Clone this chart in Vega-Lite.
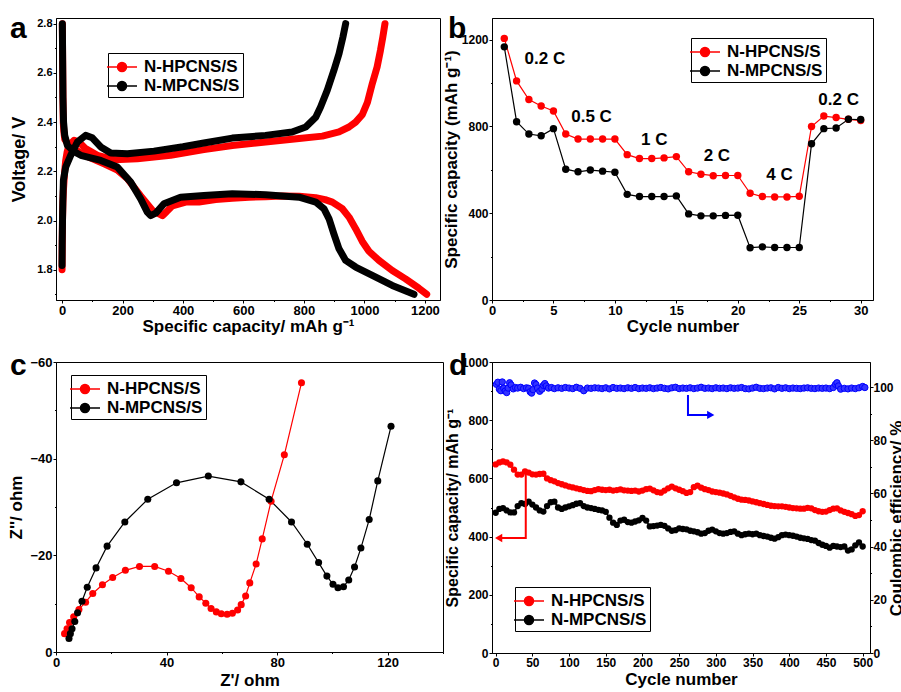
{
"$schema": "https://vega.github.io/schema/vega-lite/v6.json",
"background": "white",
"padding": {"left": 7, "top": 13, "right": 2, "bottom": 2},
"config": {
  "font": "Liberation Sans",
  "view": {"stroke": "black", "strokeWidth": 1},
  "axis": {"grid": false, "domainColor": "black", "tickColor": "black", "tickSize": 3, "labelColor": "black", "labelFontWeight": "bold", "labelFontSize": 12, "titleColor": "black", "titleFontWeight": "bold", "titleFontSize": 17, "labelPadding": 1, "labelOverlap": false, "labelFlush": false, "titlePadding": 1},
  "title": {"color": "black", "fontWeight": "bold", "fontSize": 30, "anchor": "start", "frame": "group"}
},
"datasets": {
  "galv": [
    {"s":"N-HPCNS/S","g":"d","i":0,"x":1,"y":2.8},{"s":"N-HPCNS/S","g":"d","i":1,"x":2,"y":2.65},{"s":"N-HPCNS/S","g":"d","i":2,"x":3,"y":2.5},{"s":"N-HPCNS/S","g":"d","i":3,"x":4,"y":2.4},{"s":"N-HPCNS/S","g":"d","i":4,"x":6,"y":2.36},{"s":"N-HPCNS/S","g":"d","i":5,"x":9,"y":2.33},{"s":"N-HPCNS/S","g":"d","i":6,"x":20,"y":2.31},{"s":"N-HPCNS/S","g":"d","i":7,"x":40,"y":2.29},{"s":"N-HPCNS/S","g":"d","i":8,"x":84,"y":2.26},{"s":"N-HPCNS/S","g":"d","i":9,"x":139,"y":2.23},{"s":"N-HPCNS/S","g":"d","i":10,"x":183,"y":2.205},{"s":"N-HPCNS/S","g":"d","i":11,"x":216,"y":2.17},{"s":"N-HPCNS/S","g":"d","i":12,"x":260,"y":2.1},{"s":"N-HPCNS/S","g":"d","i":13,"x":300,"y":2.04},{"s":"N-HPCNS/S","g":"d","i":14,"x":332,"y":2.02},{"s":"N-HPCNS/S","g":"d","i":15,"x":345,"y":2.035},{"s":"N-HPCNS/S","g":"d","i":16,"x":365,"y":2.06},{"s":"N-HPCNS/S","g":"d","i":17,"x":409,"y":2.075},{"s":"N-HPCNS/S","g":"d","i":18,"x":453,"y":2.075},{"s":"N-HPCNS/S","g":"d","i":19,"x":508,"y":2.085},{"s":"N-HPCNS/S","g":"d","i":20,"x":563,"y":2.09},{"s":"N-HPCNS/S","g":"d","i":21,"x":618,"y":2.095},{"s":"N-HPCNS/S","g":"d","i":22,"x":673,"y":2.097},{"s":"N-HPCNS/S","g":"d","i":23,"x":728,"y":2.1},{"s":"N-HPCNS/S","g":"d","i":24,"x":784,"y":2.099},{"s":"N-HPCNS/S","g":"d","i":25,"x":839,"y":2.093},{"s":"N-HPCNS/S","g":"d","i":26,"x":870,"y":2.085},{"s":"N-HPCNS/S","g":"d","i":27,"x":894,"y":2.075},{"s":"N-HPCNS/S","g":"d","i":28,"x":927,"y":2.048},{"s":"N-HPCNS/S","g":"d","i":29,"x":949,"y":2.014},{"s":"N-HPCNS/S","g":"d","i":30,"x":971,"y":1.967},{"s":"N-HPCNS/S","g":"d","i":31,"x":993,"y":1.915},{"s":"N-HPCNS/S","g":"d","i":32,"x":1015,"y":1.875},{"s":"N-HPCNS/S","g":"d","i":33,"x":1048,"y":1.838},{"s":"N-HPCNS/S","g":"d","i":34,"x":1092,"y":1.797},{"s":"N-HPCNS/S","g":"d","i":35,"x":1136,"y":1.763},{"s":"N-HPCNS/S","g":"d","i":36,"x":1180,"y":1.725},{"s":"N-HPCNS/S","g":"d","i":37,"x":1206,"y":1.7},
    {"s":"N-HPCNS/S","g":"c","i":0,"x":0,"y":1.8},{"s":"N-HPCNS/S","g":"c","i":1,"x":0.5,"y":1.9},{"s":"N-HPCNS/S","g":"c","i":2,"x":1.5,"y":2.0},{"s":"N-HPCNS/S","g":"c","i":3,"x":3,"y":2.08},{"s":"N-HPCNS/S","g":"c","i":4,"x":4.4,"y":2.12},{"s":"N-HPCNS/S","g":"c","i":5,"x":8,"y":2.19},{"s":"N-HPCNS/S","g":"c","i":6,"x":12,"y":2.244},{"s":"N-HPCNS/S","g":"c","i":7,"x":17,"y":2.28},{"s":"N-HPCNS/S","g":"c","i":8,"x":23,"y":2.305},{"s":"N-HPCNS/S","g":"c","i":9,"x":40,"y":2.326},{"s":"N-HPCNS/S","g":"c","i":10,"x":56,"y":2.319},{"s":"N-HPCNS/S","g":"c","i":11,"x":78,"y":2.292},{"s":"N-HPCNS/S","g":"c","i":12,"x":117,"y":2.265},{"s":"N-HPCNS/S","g":"c","i":13,"x":172,"y":2.247},{"s":"N-HPCNS/S","g":"c","i":14,"x":249,"y":2.251},{"s":"N-HPCNS/S","g":"c","i":15,"x":359,"y":2.265},{"s":"N-HPCNS/S","g":"c","i":16,"x":469,"y":2.288},{"s":"N-HPCNS/S","g":"c","i":17,"x":563,"y":2.305},{"s":"N-HPCNS/S","g":"c","i":18,"x":673,"y":2.319},{"s":"N-HPCNS/S","g":"c","i":19,"x":784,"y":2.333},{"s":"N-HPCNS/S","g":"c","i":20,"x":861,"y":2.343},{"s":"N-HPCNS/S","g":"c","i":21,"x":916,"y":2.36},{"s":"N-HPCNS/S","g":"c","i":22,"x":949,"y":2.38},{"s":"N-HPCNS/S","g":"c","i":23,"x":971,"y":2.4},{"s":"N-HPCNS/S","g":"c","i":24,"x":993,"y":2.43},{"s":"N-HPCNS/S","g":"c","i":25,"x":1010,"y":2.48},{"s":"N-HPCNS/S","g":"c","i":26,"x":1026,"y":2.556},{"s":"N-HPCNS/S","g":"c","i":27,"x":1042,"y":2.624},{"s":"N-HPCNS/S","g":"c","i":28,"x":1053,"y":2.691},{"s":"N-HPCNS/S","g":"c","i":29,"x":1061,"y":2.746},{"s":"N-HPCNS/S","g":"c","i":30,"x":1068,"y":2.8},
    {"s":"N-MPCNS/S","g":"d","i":0,"x":1,"y":2.8},{"s":"N-MPCNS/S","g":"d","i":1,"x":2,"y":2.65},{"s":"N-MPCNS/S","g":"d","i":2,"x":3,"y":2.5},{"s":"N-MPCNS/S","g":"d","i":3,"x":5,"y":2.4},{"s":"N-MPCNS/S","g":"d","i":4,"x":8.8,"y":2.346},{"s":"N-MPCNS/S","g":"d","i":5,"x":17.6,"y":2.305},{"s":"N-MPCNS/S","g":"d","i":6,"x":40,"y":2.28},{"s":"N-MPCNS/S","g":"d","i":7,"x":62,"y":2.265},{"s":"N-MPCNS/S","g":"d","i":8,"x":128,"y":2.244},{"s":"N-MPCNS/S","g":"d","i":9,"x":183,"y":2.217},{"s":"N-MPCNS/S","g":"d","i":10,"x":227,"y":2.156},{"s":"N-MPCNS/S","g":"d","i":11,"x":260,"y":2.088},{"s":"N-MPCNS/S","g":"d","i":12,"x":282,"y":2.034},{"s":"N-MPCNS/S","g":"d","i":13,"x":293,"y":2.02},{"s":"N-MPCNS/S","g":"d","i":14,"x":310,"y":2.03},{"s":"N-MPCNS/S","g":"d","i":15,"x":337,"y":2.068},{"s":"N-MPCNS/S","g":"d","i":16,"x":392,"y":2.095},{"s":"N-MPCNS/S","g":"d","i":17,"x":469,"y":2.102},{"s":"N-MPCNS/S","g":"d","i":18,"x":563,"y":2.109},{"s":"N-MPCNS/S","g":"d","i":19,"x":673,"y":2.105},{"s":"N-MPCNS/S","g":"d","i":20,"x":784,"y":2.095},{"s":"N-MPCNS/S","g":"d","i":21,"x":839,"y":2.075},{"s":"N-MPCNS/S","g":"d","i":22,"x":866,"y":2.048},{"s":"N-MPCNS/S","g":"d","i":23,"x":883,"y":2.007},{"s":"N-MPCNS/S","g":"d","i":24,"x":899,"y":1.946},{"s":"N-MPCNS/S","g":"d","i":25,"x":916,"y":1.885},{"s":"N-MPCNS/S","g":"d","i":26,"x":938,"y":1.838},{"s":"N-MPCNS/S","g":"d","i":27,"x":971,"y":1.811},{"s":"N-MPCNS/S","g":"d","i":28,"x":1026,"y":1.777},{"s":"N-MPCNS/S","g":"d","i":29,"x":1092,"y":1.736},{"s":"N-MPCNS/S","g":"d","i":30,"x":1164,"y":1.7},
    {"s":"N-MPCNS/S","g":"c","i":0,"x":0,"y":1.817},{"s":"N-MPCNS/S","g":"c","i":1,"x":0.5,"y":1.9},{"s":"N-MPCNS/S","g":"c","i":2,"x":1.5,"y":2.0},{"s":"N-MPCNS/S","g":"c","i":3,"x":2.5,"y":2.07},{"s":"N-MPCNS/S","g":"c","i":4,"x":4.4,"y":2.163},{"s":"N-MPCNS/S","g":"c","i":5,"x":12,"y":2.217},{"s":"N-MPCNS/S","g":"c","i":6,"x":28.6,"y":2.265},{"s":"N-MPCNS/S","g":"c","i":7,"x":50.7,"y":2.319},{"s":"N-MPCNS/S","g":"c","i":8,"x":78,"y":2.346},{"s":"N-MPCNS/S","g":"c","i":9,"x":100,"y":2.336},{"s":"N-MPCNS/S","g":"c","i":10,"x":128,"y":2.299},{"s":"N-MPCNS/S","g":"c","i":11,"x":161,"y":2.274},{"s":"N-MPCNS/S","g":"c","i":12,"x":216,"y":2.271},{"s":"N-MPCNS/S","g":"c","i":13,"x":304,"y":2.282},{"s":"N-MPCNS/S","g":"c","i":14,"x":400,"y":2.3},{"s":"N-MPCNS/S","g":"c","i":15,"x":469,"y":2.315},{"s":"N-MPCNS/S","g":"c","i":16,"x":563,"y":2.335},{"s":"N-MPCNS/S","g":"c","i":17,"x":673,"y":2.346},{"s":"N-MPCNS/S","g":"c","i":18,"x":761,"y":2.36},{"s":"N-MPCNS/S","g":"c","i":19,"x":806,"y":2.38},{"s":"N-MPCNS/S","g":"c","i":20,"x":839,"y":2.42},{"s":"N-MPCNS/S","g":"c","i":21,"x":855,"y":2.461},{"s":"N-MPCNS/S","g":"c","i":22,"x":877,"y":2.529},{"s":"N-MPCNS/S","g":"c","i":23,"x":899,"y":2.61},{"s":"N-MPCNS/S","g":"c","i":24,"x":916,"y":2.678},{"s":"N-MPCNS/S","g":"c","i":25,"x":929,"y":2.746},{"s":"N-MPCNS/S","g":"c","i":26,"x":938,"y":2.8}
  ],
  "rate": [
    {"s":"N-HPCNS/S","x":1,"y":1206},{"s":"N-HPCNS/S","x":2,"y":1010},{"s":"N-HPCNS/S","x":3,"y":924},{"s":"N-HPCNS/S","x":4,"y":894},{"s":"N-HPCNS/S","x":5,"y":871},{"s":"N-HPCNS/S","x":6,"y":765},{"s":"N-HPCNS/S","x":7,"y":742},{"s":"N-HPCNS/S","x":8,"y":742},{"s":"N-HPCNS/S","x":9,"y":742},{"s":"N-HPCNS/S","x":10,"y":742},{"s":"N-HPCNS/S","x":11,"y":670},{"s":"N-HPCNS/S","x":12,"y":652},{"s":"N-HPCNS/S","x":13,"y":652},{"s":"N-HPCNS/S","x":14,"y":655},{"s":"N-HPCNS/S","x":15,"y":661},{"s":"N-HPCNS/S","x":16,"y":591},{"s":"N-HPCNS/S","x":17,"y":580},{"s":"N-HPCNS/S","x":18,"y":573},{"s":"N-HPCNS/S","x":19,"y":574},{"s":"N-HPCNS/S","x":20,"y":574},{"s":"N-HPCNS/S","x":21,"y":492},{"s":"N-HPCNS/S","x":22,"y":477},{"s":"N-HPCNS/S","x":23,"y":475},{"s":"N-HPCNS/S","x":24,"y":475},{"s":"N-HPCNS/S","x":25,"y":478},{"s":"N-HPCNS/S","x":26,"y":800},{"s":"N-HPCNS/S","x":27,"y":848},{"s":"N-HPCNS/S","x":28,"y":841},{"s":"N-HPCNS/S","x":29,"y":833},{"s":"N-HPCNS/S","x":30,"y":827},
    {"s":"N-MPCNS/S","x":1,"y":1167},{"s":"N-MPCNS/S","x":2,"y":822},{"s":"N-MPCNS/S","x":3,"y":765},{"s":"N-MPCNS/S","x":4,"y":757},{"s":"N-MPCNS/S","x":5,"y":790},{"s":"N-MPCNS/S","x":6,"y":603},{"s":"N-MPCNS/S","x":7,"y":591},{"s":"N-MPCNS/S","x":8,"y":599},{"s":"N-MPCNS/S","x":9,"y":594},{"s":"N-MPCNS/S","x":10,"y":589},{"s":"N-MPCNS/S","x":11,"y":487},{"s":"N-MPCNS/S","x":12,"y":477},{"s":"N-MPCNS/S","x":13,"y":477},{"s":"N-MPCNS/S","x":14,"y":477},{"s":"N-MPCNS/S","x":15,"y":480},{"s":"N-MPCNS/S","x":16,"y":397},{"s":"N-MPCNS/S","x":17,"y":388},{"s":"N-MPCNS/S","x":18,"y":388},{"s":"N-MPCNS/S","x":19,"y":390},{"s":"N-MPCNS/S","x":20,"y":391},{"s":"N-MPCNS/S","x":21,"y":241},{"s":"N-MPCNS/S","x":22,"y":245},{"s":"N-MPCNS/S","x":23,"y":242},{"s":"N-MPCNS/S","x":24,"y":242},{"s":"N-MPCNS/S","x":25,"y":242},{"s":"N-MPCNS/S","x":26,"y":720},{"s":"N-MPCNS/S","x":27,"y":790},{"s":"N-MPCNS/S","x":28,"y":793},{"s":"N-MPCNS/S","x":29,"y":833},{"s":"N-MPCNS/S","x":30,"y":832}
  ],
  "ratelabels": [
    {"x":4.3,"y":1112,"t":"0.2 C"},{"x":8.1,"y":845,"t":"0.5 C"},{"x":13.2,"y":736,"t":"1 C"},{"x":18.3,"y":666,"t":"2 C"},{"x":23.4,"y":574,"t":"4 C"},{"x":28.2,"y":924,"t":"0.2 C"}
  ],
  "eis": [
    {"s":"N-HPCNS/S","x":3.1,"y":-3.8},{"s":"N-HPCNS/S","x":4.0,"y":-4.8},{"s":"N-HPCNS/S","x":4.9,"y":-6.1},{"s":"N-HPCNS/S","x":6.4,"y":-7.3},{"s":"N-HPCNS/S","x":8.3,"y":-8.8},{"s":"N-HPCNS/S","x":10.7,"y":-10.3},{"s":"N-HPCNS/S","x":13.3,"y":-12.1},{"s":"N-HPCNS/S","x":16.8,"y":-13.9},{"s":"N-HPCNS/S","x":20.5,"y":-15.4},{"s":"N-HPCNS/S","x":25.1,"y":-16.9},{"s":"N-HPCNS/S","x":30.2,"y":-17.7},{"s":"N-HPCNS/S","x":35.7,"y":-17.7},{"s":"N-HPCNS/S","x":40.7,"y":-16.7},{"s":"N-HPCNS/S","x":45.2,"y":-15.2},{"s":"N-HPCNS/S","x":48.9,"y":-13.3},{"s":"N-HPCNS/S","x":51.8,"y":-11.4},{"s":"N-HPCNS/S","x":54.2,"y":-10.1},{"s":"N-HPCNS/S","x":56.1,"y":-9.0},{"s":"N-HPCNS/S","x":58.0,"y":-8.3},{"s":"N-HPCNS/S","x":59.8,"y":-7.9},{"s":"N-HPCNS/S","x":61.9,"y":-7.8},{"s":"N-HPCNS/S","x":63.8,"y":-8.0},{"s":"N-HPCNS/S","x":65.7,"y":-8.7},{"s":"N-HPCNS/S","x":67.0,"y":-9.8},{"s":"N-HPCNS/S","x":68.6,"y":-11.6},{"s":"N-HPCNS/S","x":70.1,"y":-14.3},{"s":"N-HPCNS/S","x":72.4,"y":-18.2},{"s":"N-HPCNS/S","x":74.6,"y":-23.4},{"s":"N-HPCNS/S","x":77.8,"y":-31.2},{"s":"N-HPCNS/S","x":82.6,"y":-40.8},{"s":"N-HPCNS/S","x":88.8,"y":-55.7},
    {"s":"N-MPCNS/S","x":4.7,"y":-2.8},{"s":"N-MPCNS/S","x":5.2,"y":-3.8},{"s":"N-MPCNS/S","x":5.8,"y":-4.8},{"s":"N-MPCNS/S","x":6.8,"y":-6.3},{"s":"N-MPCNS/S","x":7.8,"y":-8.1},{"s":"N-MPCNS/S","x":9.4,"y":-10.5},{"s":"N-MPCNS/S","x":11.3,"y":-13.4},{"s":"N-MPCNS/S","x":14.5,"y":-17.4},{"s":"N-MPCNS/S","x":18.5,"y":-21.9},{"s":"N-MPCNS/S","x":24.9,"y":-26.9},{"s":"N-MPCNS/S","x":33.2,"y":-31.6},{"s":"N-MPCNS/S","x":43.6,"y":-35.0},{"s":"N-MPCNS/S","x":55.1,"y":-36.4},{"s":"N-MPCNS/S","x":66.9,"y":-35.2},{"s":"N-MPCNS/S","x":77.1,"y":-31.6},{"s":"N-MPCNS/S","x":85.2,"y":-26.9},{"s":"N-MPCNS/S","x":90.9,"y":-22.3},{"s":"N-MPCNS/S","x":95.0,"y":-18.5},{"s":"N-MPCNS/S","x":98.0,"y":-15.7},{"s":"N-MPCNS/S","x":100.2,"y":-14.0},{"s":"N-MPCNS/S","x":102.0,"y":-13.3},{"s":"N-MPCNS/S","x":104.0,"y":-13.5},{"s":"N-MPCNS/S","x":105.9,"y":-14.9},{"s":"N-MPCNS/S","x":108.0,"y":-17.6},{"s":"N-MPCNS/S","x":110.3,"y":-21.5},{"s":"N-MPCNS/S","x":113.3,"y":-27.4},{"s":"N-MPCNS/S","x":116.4,"y":-35.4},{"s":"N-MPCNS/S","x":121.2,"y":-46.7}
  ],
  "cyc": [
    {"s":"N-HPCNS/S","x":0,"y":648},{"s":"N-HPCNS/S","x":5,"y":655},{"s":"N-HPCNS/S","x":10,"y":658},{"s":"N-HPCNS/S","x":15,"y":655},{"s":"N-HPCNS/S","x":20,"y":647},{"s":"N-HPCNS/S","x":25,"y":630},{"s":"N-HPCNS/S","x":30,"y":613},{"s":"N-HPCNS/S","x":35,"y":613},{"s":"N-HPCNS/S","x":40,"y":624},{"s":"N-HPCNS/S","x":45,"y":620},{"s":"N-HPCNS/S","x":50,"y":614},{"s":"N-HPCNS/S","x":55,"y":613},{"s":"N-HPCNS/S","x":60,"y":615},{"s":"N-HPCNS/S","x":65,"y":616},{"s":"N-HPCNS/S","x":70,"y":600},{"s":"N-HPCNS/S","x":75,"y":594},{"s":"N-HPCNS/S","x":80,"y":590},{"s":"N-HPCNS/S","x":85,"y":584},{"s":"N-HPCNS/S","x":90,"y":580},{"s":"N-HPCNS/S","x":95,"y":576},{"s":"N-HPCNS/S","x":100,"y":572},{"s":"N-HPCNS/S","x":105,"y":569},{"s":"N-HPCNS/S","x":110,"y":566},{"s":"N-HPCNS/S","x":115,"y":563},{"s":"N-HPCNS/S","x":120,"y":560},{"s":"N-HPCNS/S","x":125,"y":557},{"s":"N-HPCNS/S","x":130,"y":556},{"s":"N-HPCNS/S","x":135,"y":560},{"s":"N-HPCNS/S","x":140,"y":563},{"s":"N-HPCNS/S","x":145,"y":561},{"s":"N-HPCNS/S","x":150,"y":560},{"s":"N-HPCNS/S","x":155,"y":561},{"s":"N-HPCNS/S","x":160,"y":558},{"s":"N-HPCNS/S","x":165,"y":560},{"s":"N-HPCNS/S","x":170,"y":562},{"s":"N-HPCNS/S","x":175,"y":559},{"s":"N-HPCNS/S","x":180,"y":558},{"s":"N-HPCNS/S","x":185,"y":557},{"s":"N-HPCNS/S","x":190,"y":558},{"s":"N-HPCNS/S","x":195,"y":555},{"s":"N-HPCNS/S","x":200,"y":558},{"s":"N-HPCNS/S","x":205,"y":563},{"s":"N-HPCNS/S","x":210,"y":565},{"s":"N-HPCNS/S","x":215,"y":559},{"s":"N-HPCNS/S","x":220,"y":553},{"s":"N-HPCNS/S","x":225,"y":551},{"s":"N-HPCNS/S","x":230,"y":558},{"s":"N-HPCNS/S","x":235,"y":566},{"s":"N-HPCNS/S","x":240,"y":572},{"s":"N-HPCNS/S","x":245,"y":566},{"s":"N-HPCNS/S","x":250,"y":561},{"s":"N-HPCNS/S","x":255,"y":556},{"s":"N-HPCNS/S","x":260,"y":550},{"s":"N-HPCNS/S","x":265,"y":553},{"s":"N-HPCNS/S","x":270,"y":570},{"s":"N-HPCNS/S","x":275,"y":575},{"s":"N-HPCNS/S","x":280,"y":568},{"s":"N-HPCNS/S","x":285,"y":563},{"s":"N-HPCNS/S","x":290,"y":560},{"s":"N-HPCNS/S","x":295,"y":555},{"s":"N-HPCNS/S","x":300,"y":553},{"s":"N-HPCNS/S","x":305,"y":551},{"s":"N-HPCNS/S","x":310,"y":548},{"s":"N-HPCNS/S","x":315,"y":545},{"s":"N-HPCNS/S","x":320,"y":540},{"s":"N-HPCNS/S","x":325,"y":535},{"s":"N-HPCNS/S","x":330,"y":530},{"s":"N-HPCNS/S","x":335,"y":527},{"s":"N-HPCNS/S","x":340,"y":526},{"s":"N-HPCNS/S","x":345,"y":524},{"s":"N-HPCNS/S","x":350,"y":521},{"s":"N-HPCNS/S","x":355,"y":518},{"s":"N-HPCNS/S","x":360,"y":515},{"s":"N-HPCNS/S","x":365,"y":512},{"s":"N-HPCNS/S","x":370,"y":509},{"s":"N-HPCNS/S","x":375,"y":506},{"s":"N-HPCNS/S","x":380,"y":505},{"s":"N-HPCNS/S","x":385,"y":504},{"s":"N-HPCNS/S","x":390,"y":504},{"s":"N-HPCNS/S","x":395,"y":502},{"s":"N-HPCNS/S","x":400,"y":500},{"s":"N-HPCNS/S","x":405,"y":498},{"s":"N-HPCNS/S","x":410,"y":497},{"s":"N-HPCNS/S","x":415,"y":496},{"s":"N-HPCNS/S","x":420,"y":496},{"s":"N-HPCNS/S","x":425,"y":499},{"s":"N-HPCNS/S","x":430,"y":497},{"s":"N-HPCNS/S","x":435,"y":491},{"s":"N-HPCNS/S","x":440,"y":487},{"s":"N-HPCNS/S","x":445,"y":485},{"s":"N-HPCNS/S","x":450,"y":486},{"s":"N-HPCNS/S","x":455,"y":491},{"s":"N-HPCNS/S","x":460,"y":496},{"s":"N-HPCNS/S","x":465,"y":497},{"s":"N-HPCNS/S","x":470,"y":490},{"s":"N-HPCNS/S","x":475,"y":485},{"s":"N-HPCNS/S","x":480,"y":481},{"s":"N-HPCNS/S","x":485,"y":477},{"s":"N-HPCNS/S","x":490,"y":471},{"s":"N-HPCNS/S","x":495,"y":474},{"s":"N-HPCNS/S","x":500,"y":487},
    {"s":"N-MPCNS/S","x":0,"y":482},{"s":"N-MPCNS/S","x":5,"y":495},{"s":"N-MPCNS/S","x":10,"y":498},{"s":"N-MPCNS/S","x":15,"y":490},{"s":"N-MPCNS/S","x":20,"y":483},{"s":"N-MPCNS/S","x":25,"y":483},{"s":"N-MPCNS/S","x":30,"y":505},{"s":"N-MPCNS/S","x":35,"y":515},{"s":"N-MPCNS/S","x":40,"y":512},{"s":"N-MPCNS/S","x":45,"y":520},{"s":"N-MPCNS/S","x":50,"y":510},{"s":"N-MPCNS/S","x":55,"y":500},{"s":"N-MPCNS/S","x":60,"y":490},{"s":"N-MPCNS/S","x":65,"y":486},{"s":"N-MPCNS/S","x":70,"y":505},{"s":"N-MPCNS/S","x":75,"y":518},{"s":"N-MPCNS/S","x":80,"y":520},{"s":"N-MPCNS/S","x":85,"y":500},{"s":"N-MPCNS/S","x":90,"y":495},{"s":"N-MPCNS/S","x":95,"y":500},{"s":"N-MPCNS/S","x":100,"y":504},{"s":"N-MPCNS/S","x":105,"y":508},{"s":"N-MPCNS/S","x":110,"y":513},{"s":"N-MPCNS/S","x":115,"y":515},{"s":"N-MPCNS/S","x":120,"y":505},{"s":"N-MPCNS/S","x":125,"y":500},{"s":"N-MPCNS/S","x":130,"y":498},{"s":"N-MPCNS/S","x":135,"y":495},{"s":"N-MPCNS/S","x":140,"y":492},{"s":"N-MPCNS/S","x":145,"y":490},{"s":"N-MPCNS/S","x":150,"y":485},{"s":"N-MPCNS/S","x":155,"y":465},{"s":"N-MPCNS/S","x":160,"y":448},{"s":"N-MPCNS/S","x":165,"y":440},{"s":"N-MPCNS/S","x":170,"y":455},{"s":"N-MPCNS/S","x":175,"y":458},{"s":"N-MPCNS/S","x":180,"y":450},{"s":"N-MPCNS/S","x":185,"y":448},{"s":"N-MPCNS/S","x":190,"y":452},{"s":"N-MPCNS/S","x":195,"y":456},{"s":"N-MPCNS/S","x":200,"y":464},{"s":"N-MPCNS/S","x":205,"y":455},{"s":"N-MPCNS/S","x":210,"y":435},{"s":"N-MPCNS/S","x":215,"y":436},{"s":"N-MPCNS/S","x":220,"y":438},{"s":"N-MPCNS/S","x":225,"y":440},{"s":"N-MPCNS/S","x":230,"y":437},{"s":"N-MPCNS/S","x":235,"y":428},{"s":"N-MPCNS/S","x":240,"y":420},{"s":"N-MPCNS/S","x":245,"y":422},{"s":"N-MPCNS/S","x":250,"y":428},{"s":"N-MPCNS/S","x":255,"y":426},{"s":"N-MPCNS/S","x":260,"y":425},{"s":"N-MPCNS/S","x":265,"y":420},{"s":"N-MPCNS/S","x":270,"y":418},{"s":"N-MPCNS/S","x":275,"y":415},{"s":"N-MPCNS/S","x":280,"y":410},{"s":"N-MPCNS/S","x":285,"y":412},{"s":"N-MPCNS/S","x":290,"y":420},{"s":"N-MPCNS/S","x":295,"y":424},{"s":"N-MPCNS/S","x":300,"y":418},{"s":"N-MPCNS/S","x":305,"y":412},{"s":"N-MPCNS/S","x":310,"y":410},{"s":"N-MPCNS/S","x":315,"y":412},{"s":"N-MPCNS/S","x":320,"y":416},{"s":"N-MPCNS/S","x":325,"y":418},{"s":"N-MPCNS/S","x":330,"y":410},{"s":"N-MPCNS/S","x":335,"y":405},{"s":"N-MPCNS/S","x":340,"y":408},{"s":"N-MPCNS/S","x":345,"y":410},{"s":"N-MPCNS/S","x":350,"y":408},{"s":"N-MPCNS/S","x":355,"y":410},{"s":"N-MPCNS/S","x":360,"y":405},{"s":"N-MPCNS/S","x":365,"y":402},{"s":"N-MPCNS/S","x":370,"y":400},{"s":"N-MPCNS/S","x":375,"y":396},{"s":"N-MPCNS/S","x":380,"y":393},{"s":"N-MPCNS/S","x":385,"y":398},{"s":"N-MPCNS/S","x":390,"y":405},{"s":"N-MPCNS/S","x":395,"y":407},{"s":"N-MPCNS/S","x":400,"y":405},{"s":"N-MPCNS/S","x":405,"y":403},{"s":"N-MPCNS/S","x":410,"y":400},{"s":"N-MPCNS/S","x":415,"y":396},{"s":"N-MPCNS/S","x":420,"y":394},{"s":"N-MPCNS/S","x":425,"y":392},{"s":"N-MPCNS/S","x":430,"y":388},{"s":"N-MPCNS/S","x":435,"y":386},{"s":"N-MPCNS/S","x":440,"y":378},{"s":"N-MPCNS/S","x":445,"y":372},{"s":"N-MPCNS/S","x":450,"y":368},{"s":"N-MPCNS/S","x":455,"y":362},{"s":"N-MPCNS/S","x":460,"y":368},{"s":"N-MPCNS/S","x":465,"y":366},{"s":"N-MPCNS/S","x":470,"y":364},{"s":"N-MPCNS/S","x":475,"y":366},{"s":"N-MPCNS/S","x":480,"y":352},{"s":"N-MPCNS/S","x":485,"y":356},{"s":"N-MPCNS/S","x":490,"y":370},{"s":"N-MPCNS/S","x":495,"y":380},{"s":"N-MPCNS/S","x":500,"y":366}
  ],
  "ce": [
    {"x":1,"y":101.0},{"x":3,"y":101.8},{"x":5,"y":99.2},{"x":7,"y":98.6},{"x":9,"y":101.9},{"x":11,"y":99.5},{"x":13,"y":98.5},{"x":15,"y":97.9},{"x":17,"y":99.6},{"x":19,"y":101.6},{"x":21,"y":100.8},{"x":24,"y":99.3},{"x":27,"y":99.8},{"x":30,"y":99.6},{"x":34,"y":99.9},{"x":38,"y":99.4},{"x":42,"y":99.7},{"x":45,"y":99.5},{"x":47,"y":98.2},{"x":49,"y":97.7},{"x":51,"y":99.0},{"x":53,"y":101.5},{"x":55,"y":100.9},{"x":57,"y":99.6},{"x":60,"y":98.4},{"x":63,"y":99.2},{"x":65,"y":100.6},{"x":67,"y":101.3},{"x":69,"y":100.4},{"x":72,"y":99.6},{"x":76,"y":99.8},{"x":80,"y":99.4},{"x":85,"y":99.7},{"x":90,"y":99.5},{"x":95,"y":99.8},{"x":100,"y":99.6},{"x":105,"y":99.4},{"x":110,"y":99.9},{"x":115,"y":99.5},{"x":120,"y":98.6},{"x":125,"y":99.6},{"x":130,"y":99.5},{"x":135,"y":99.7},{"x":140,"y":99.6},{"x":145,"y":99.4},{"x":150,"y":99.7},{"x":155,"y":99.3},{"x":160,"y":99.8},{"x":165,"y":99.5},{"x":170,"y":99.6},{"x":175,"y":99.4},{"x":180,"y":99.7},{"x":185,"y":99.5},{"x":190,"y":99.8},{"x":195,"y":99.4},{"x":200,"y":99.6},{"x":205,"y":99.5},{"x":210,"y":99.7},{"x":215,"y":99.4},{"x":220,"y":99.6},{"x":225,"y":99.8},{"x":230,"y":99.5},{"x":235,"y":99.3},{"x":240,"y":99.7},{"x":245,"y":99.9},{"x":250,"y":99.4},{"x":255,"y":99.6},{"x":260,"y":99.5},{"x":265,"y":99.7},{"x":270,"y":99.4},{"x":275,"y":99.6},{"x":280,"y":99.9},{"x":285,"y":99.5},{"x":290,"y":99.6},{"x":295,"y":99.4},{"x":300,"y":99.7},{"x":305,"y":99.5},{"x":310,"y":99.6},{"x":315,"y":99.4},{"x":320,"y":99.7},{"x":325,"y":99.5},{"x":330,"y":99.6},{"x":335,"y":99.8},{"x":340,"y":99.4},{"x":345,"y":99.3},{"x":350,"y":99.6},{"x":355,"y":99.9},{"x":360,"y":99.5},{"x":365,"y":99.4},{"x":370,"y":99.6},{"x":375,"y":99.7},{"x":380,"y":99.3},{"x":385,"y":99.8},{"x":390,"y":99.5},{"x":395,"y":99.7},{"x":400,"y":99.4},{"x":405,"y":99.6},{"x":410,"y":99.5},{"x":415,"y":99.4},{"x":420,"y":99.6},{"x":425,"y":99.7},{"x":430,"y":99.5},{"x":435,"y":99.4},{"x":440,"y":99.6},{"x":445,"y":99.5},{"x":450,"y":99.6},{"x":455,"y":99.4},{"x":460,"y":99.8},{"x":463,"y":101.0},{"x":465,"y":101.6},{"x":467,"y":100.4},{"x":470,"y":99.2},{"x":475,"y":99.5},{"x":480,"y":99.3},{"x":485,"y":99.6},{"x":490,"y":99.4},{"x":495,"y":99.7},{"x":500,"y":100.2},{"x":503,"y":99.8}
  ],
  "redarrow": [{"i":0,"x":41,"y":618},{"i":1,"x":41,"y":395},{"i":2,"x":4,"y":395}],
  "redhead": [{"x":4,"y":395}],
  "bluearrow": [{"i":0,"x":262,"y":97},{"i":1,"x":262,"y":89.5},{"i":2,"x":293,"y":89.5}],
  "bluehead": [{"x":293,"y":89.5}]
},
"columns": 2,
"spacing": {"row": 62, "column": 49},
"bounds": "flush",
"resolve": {"scale": {"color": "independent"}, "legend": {"color": "independent"}},
"concat": [
  {
    "width": 384, "height": 282,
    "title": {"text": "a", "dx": -46, "dy": 30},
    "data": {"name": "galv"},
    "mark": {"type": "line", "strokeWidth": 7, "strokeCap": "round", "strokeJoin": "round"},
    "encoding": {
      "x": {"field": "x", "type": "quantitative", "scale": {"domain": [-20, 1250], "nice": false, "zero": false},
        "axis": {"title": "Specific capacity/ mAh g⁻¹", "values": [0,100,200,300,400,500,600,700,800,900,1000,1100,1200], "labelExpr": "datum.value % 200 === 0 ? datum.label : ''", "tickSize": {"condition": {"test": "datum.value % 200 !== 0", "value": 1.5}, "value": 3}, "labelFontSize": 13, "format": "d"}},
      "y": {"field": "y", "type": "quantitative", "scale": {"domain": [1.677, 2.823], "nice": false, "zero": false},
        "axis": {"title": "Voltage/ V", "values": [1.7,1.8,1.9,2.0,2.1,2.2,2.3,2.4,2.5,2.6,2.7,2.8], "format": ".1f", "labelExpr": "round(datum.value*10) % 2 === 0 ? datum.label : ''", "tickSize": {"condition": {"test": "round(datum.value*10) % 2 === 1", "value": 1.5}, "value": 3}, "labelFontSize": 11, "titlePadding": 8, "titleFontSize": 18}},
      "color": {"field": "s", "type": "nominal", "scale": {"domain": ["N-HPCNS/S", "N-MPCNS/S"], "range": ["#ff0000", "#000000"]},
        "legend": {"orient": "none", "legendX": 52, "legendY": 35, "title": null, "strokeColor": "black", "fillColor": "white", "padding": 3, "rowPadding": 0, "symbolType": "M-1.5,0H1.5M-0.45,0A0.45,0.45 0 1,1 0.45,0A0.45,0.45 0 1,1 -0.45,0Z", "symbolSize": 400, "symbolStrokeWidth": 1.5, "labelFontSize": 17, "labelFontWeight": "bold", "labelColor": "black", "labelOffset": 11,
          "encode": {"symbols": {"update": {"fill": {"signal": "datum.value === 'N-HPCNS/S' ? '#ff0000' : '#000000'"}, "stroke": {"signal": "datum.value === 'N-HPCNS/S' ? '#ff0000' : '#000000'"}}}}}},
      "detail": {"field": "g"},
      "order": {"field": "i", "type": "quantitative"}
    }
  },
  {
    "width": 381, "height": 282,
    "title": {"text": "b", "dx": -44, "dy": 30},
    "encoding": {
      "x": {"field": "x", "type": "quantitative", "scale": {"domain": [0, 31], "nice": false, "zero": false},
        "axis": {"title": "Cycle number", "values": [0,2.5,5,7.5,10,12.5,15,17.5,20,22.5,25,27.5,30], "labelExpr": "datum.value % 5 === 0 ? datum.label : ''", "tickSize": {"condition": {"test": "datum.value % 5 !== 0", "value": 1.5}, "value": 3}, "format": "~g", "labelFontSize": 13}},
      "y": {"field": "y", "type": "quantitative", "scale": {"domain": [0, 1300], "nice": false},
        "axis": {"title": "Specific capacity (mAh g⁻¹)", "values": [0,200,400,600,800,1000,1200], "labelExpr": "datum.value % 400 === 0 ? datum.label : ''", "tickSize": {"condition": {"test": "datum.value % 400 !== 0", "value": 1.5}, "value": 3}, "format": "d"}}
    },
    "layer": [
      {"data": {"name": "rate"}, "mark": {"type": "line", "strokeWidth": 1.2},
       "encoding": {"color": {"field": "s", "type": "nominal", "scale": {"domain": ["N-HPCNS/S", "N-MPCNS/S"], "range": ["#ff0000", "#000000"]},
        "legend": {"orient": "none", "legendX": 199, "legendY": 20, "title": null, "strokeColor": "black", "fillColor": "white", "padding": 3, "rowPadding": 0, "symbolType": "M-1.5,0H1.5M-0.45,0A0.45,0.45 0 1,1 0.45,0A0.45,0.45 0 1,1 -0.45,0Z", "symbolSize": 400, "symbolStrokeWidth": 1.5, "labelFontSize": 17, "labelFontWeight": "bold", "labelColor": "black", "labelOffset": 11,
          "encode": {"symbols": {"update": {"fill": {"signal": "datum.value === 'N-HPCNS/S' ? '#ff0000' : '#000000'"}, "stroke": {"signal": "datum.value === 'N-HPCNS/S' ? '#ff0000' : '#000000'"}}}}}}}},
      {"data": {"name": "rate"}, "mark": {"type": "point", "filled": true, "size": 55, "opacity": 1},
       "encoding": {"color": {"field": "s", "type": "nominal"}}},
      {"data": {"name": "ratelabels"}, "mark": {"type": "text", "fontSize": 17, "fontWeight": "bold", "color": "black", "align": "center", "baseline": "middle"},
       "encoding": {"text": {"field": "t"}}}
    ]
  },
  {
    "width": 387, "height": 290,
    "title": {"text": "c", "dx": -46, "dy": 29},
    "data": {"name": "eis"},
    "encoding": {
      "x": {"field": "x", "type": "quantitative", "scale": {"domain": [0, 140], "nice": false, "zero": false},
        "axis": {"title": "Z'/ ohm", "values": [0,20,40,60,80,100,120,140], "labelExpr": "datum.value % 40 === 0 && datum.value < 140 ? datum.label : ''", "tickSize": {"condition": {"test": "datum.value % 40 !== 0", "value": 1.5}, "value": 3}, "format": "d", "labelFontSize": 13, "titlePadding": 3}},
      "y": {"field": "y", "type": "quantitative", "scale": {"domain": [0, -60], "nice": false, "zero": false},
        "axis": {"title": "Z''/ ohm", "values": [0,-10,-20,-30,-40,-50,-60], "labelExpr": "datum.value % 20 === 0 ? datum.label : ''", "tickSize": {"condition": {"test": "datum.value % 20 !== 0", "value": 1.5}, "value": 3}, "format": "d", "labelFontSize": 13, "titlePadding": 4}},
      "color": {"field": "s", "type": "nominal", "scale": {"domain": ["N-HPCNS/S", "N-MPCNS/S"], "range": ["#ff0000", "#000000"]},
        "legend": {"orient": "none", "legendX": 15, "legendY": 13, "title": null, "strokeColor": "black", "fillColor": "white", "padding": 3, "rowPadding": 0, "symbolType": "M-1.5,0H1.5M-0.45,0A0.45,0.45 0 1,1 0.45,0A0.45,0.45 0 1,1 -0.45,0Z", "symbolSize": 400, "symbolStrokeWidth": 1.5, "labelFontSize": 17, "labelFontWeight": "bold", "labelColor": "black", "labelOffset": 11,
          "encode": {"symbols": {"update": {"fill": {"signal": "datum.value === 'N-HPCNS/S' ? '#ff0000' : '#000000'"}, "stroke": {"signal": "datum.value === 'N-HPCNS/S' ? '#ff0000' : '#000000'"}}}}}}
    },
    "layer": [
      {"mark": {"type": "line", "strokeWidth": 1.2}},
      {"mark": {"type": "point", "filled": true, "size": 50, "opacity": 1}}
    ]
  },
  {
    "width": 378, "height": 291,
    "title": {"text": "d", "dx": -43, "dy": 29},
    "encoding": {
      "x": {"field": "x", "type": "quantitative", "scale": {"domain": [-5, 510], "nice": false, "zero": false},
        "axis": {"title": "Cycle number", "values": [0,50,100,150,200,250,300,350,400,450,500], "format": "d", "titlePadding": 3}}
    },
    "resolve": {"scale": {"y": "independent"}},
    "layer": [
      {
        "encoding": {
          "y": {"field": "y", "type": "quantitative", "scale": {"domain": [0, 1000], "nice": false},
            "axis": {"title": "Specific capacity/ mAh g⁻¹", "titleFontSize": 16, "values": [0,100,200,300,400,500,600,700,800,900,1000], "labelExpr": "datum.value % 200 === 0 ? datum.label : ''", "tickSize": {"condition": {"test": "datum.value % 200 !== 0", "value": 1.5}, "value": 3}, "format": "d"}}
        },
        "layer": [
          {"data": {"name": "cyc"}, "mark": {"type": "line", "strokeWidth": 1.5},
           "encoding": {"color": {"field": "s", "type": "nominal", "scale": {"domain": ["N-HPCNS/S", "N-MPCNS/S"], "range": ["#ff0000", "#000000"]},
            "legend": {"orient": "none", "legendX": 23, "legendY": 225, "title": null, "strokeColor": "black", "fillColor": "white", "padding": 3, "rowPadding": 0, "symbolType": "M-1.5,0H1.5M-0.45,0A0.45,0.45 0 1,1 0.45,0A0.45,0.45 0 1,1 -0.45,0Z", "symbolSize": 400, "symbolStrokeWidth": 1.5, "labelFontSize": 17, "labelFontWeight": "bold", "labelColor": "black", "labelOffset": 11,
              "encode": {"symbols": {"update": {"fill": {"signal": "datum.value === 'N-HPCNS/S' ? '#ff0000' : '#000000'"}, "stroke": {"signal": "datum.value === 'N-HPCNS/S' ? '#ff0000' : '#000000'"}}}}}}}},
          {"data": {"name": "cyc"}, "mark": {"type": "point", "filled": true, "size": 40, "opacity": 1},
           "encoding": {"color": {"field": "s", "type": "nominal"}}},
          {"data": {"name": "redarrow"}, "mark": {"type": "line", "color": "#ff0000", "strokeWidth": 2},
           "encoding": {"order": {"field": "i", "type": "quantitative"}}},
          {"data": {"name": "redhead"}, "mark": {"type": "point", "shape": "triangle-left", "filled": true, "color": "#ff0000", "size": 70, "opacity": 1}}
        ]
      },
      {
        "encoding": {
          "y": {"field": "y", "type": "quantitative", "scale": {"domain": [0, 109.4], "nice": false},
            "axis": {"orient": "right", "title": "Coulombic efficiency/ %", "titleAngle": 270, "titleBaseline": "top", "titleX": 18, "titleY": 156, "values": [0,10,20,30,40,50,60,70,80,90,100], "labelExpr": "datum.value % 20 === 0 ? datum.label : ''", "tickSize": {"condition": {"test": "datum.value % 20 !== 0", "value": 1.5}, "value": 3}, "labelPadding": 0, "format": "d"}}
        },
        "layer": [
          {"data": {"name": "ce"}, "mark": {"type": "line", "color": "#0000ff", "strokeWidth": 1}},
          {"data": {"name": "ce"}, "mark": {"type": "point", "filled": true, "color": "#3333ff", "stroke": "#0000ff", "strokeWidth": 1, "size": 40, "opacity": 1}},
          {"data": {"name": "bluearrow"}, "mark": {"type": "line", "color": "#0000ff", "strokeWidth": 2},
           "encoding": {"order": {"field": "i", "type": "quantitative"}}},
          {"data": {"name": "bluehead"}, "mark": {"type": "point", "shape": "triangle-right", "filled": true, "color": "#0000ff", "size": 70, "opacity": 1}}
        ]
      }
    ]
  }
]
}
